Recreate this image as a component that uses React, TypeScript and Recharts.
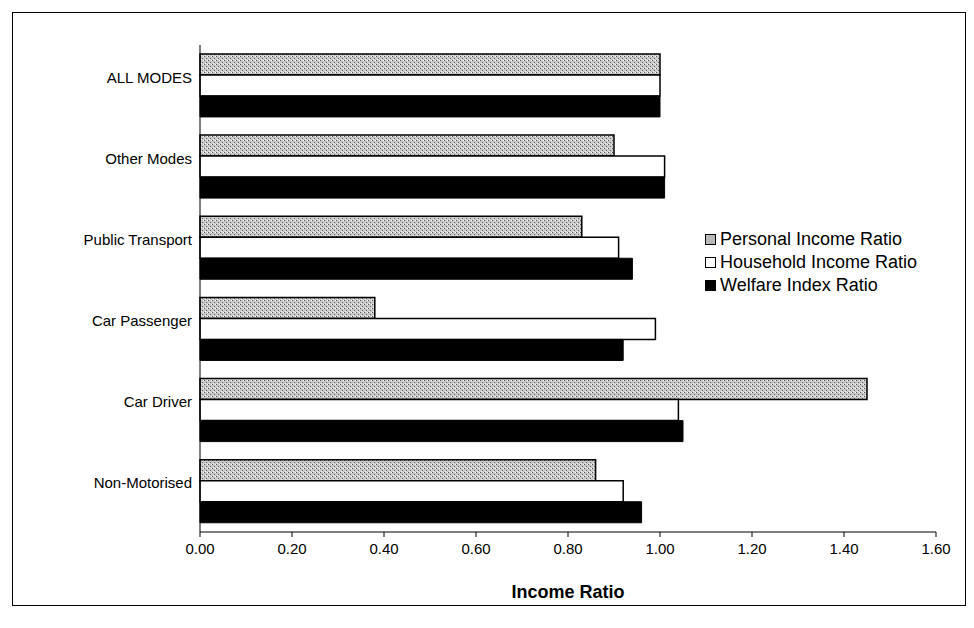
import React from "react";
import { BarChart, Bar, XAxis, YAxis } from "recharts";

const categories = ["ALL MODES", "Other Modes", "Public Transport", "Car Passenger", "Car Driver", "Non-Motorised"];
const personalIncome = [1.0, 0.9, 0.83, 0.38, 1.45, 0.86];
const householdIncome = [1.0, 1.01, 0.91, 0.99, 1.04, 0.92];
const welfareIndex = [1.0, 1.01, 0.94, 0.92, 1.05, 0.96];
const xTicks = [0, 0.2, 0.4, 0.6, 0.8, 1.0, 1.2, 1.4, 1.6];
const seriesNames = ["Personal Income Ratio", "Household Income Ratio", "Welfare Index Ratio"];

const data = categories.map((c, i) => ({
  mode: c,
  personal: personalIncome[i],
  household: householdIncome[i],
  welfare: welfareIndex[i],
}));

const FONT = "'Liberation Sans', Arial, sans-serif";

const CatTick = (props: any) => {
  const { x, y, payload } = props;
  return (
    <text x={x} y={y - 8} dy={5} textAnchor="end" fontSize={15} fill="#000" fontFamily={FONT}>
      {payload.value}
    </text>
  );
};

const legendSwatches = [
  { background: "#b8b8b8", border: "1.5px solid #000" },
  { background: "#fff", border: "1.5px solid #000" },
  { background: "#000", border: "1.5px solid #000" },
];

export default function App() {
  return (
    <div style={{ position: "relative", width: 958, height: 612, background: "#fff" }}>
      <div
        style={{
          position: "absolute",
          left: 4,
          top: 4,
          width: 954,
          height: 594,
          border: "1px solid #000",
          boxSizing: "border-box",
        }}
      />
      <BarChart
        width={958}
        height={612}
        data={data}
        layout="vertical"
        margin={{ top: 37, right: 30, bottom: 18, left: 0 }}
        barCategoryGap="11%"
        barGap={0}
        style={{ fontFamily: FONT }}
      >
        <defs>
          <pattern id="stipple" width="4" height="4" patternUnits="userSpaceOnUse">
            <rect width="4" height="4" fill="#c8c8c8" />
            <rect x="0" y="0" width="1" height="1" fill="#555" />
            <rect x="2" y="2" width="1" height="1" fill="#666" />
            <rect x="3" y="0" width="1" height="1" fill="#fff" />
            <rect x="1" y="3" width="1" height="1" fill="#eee" />
          </pattern>
        </defs>
        <XAxis
          type="number"
          domain={[0, 1.6]}
          ticks={xTicks}
          tickFormatter={(v: number) => v.toFixed(2)}
          stroke="#000"
          tick={{ fill: "#000", fontSize: 15, fontFamily: FONT }}
          tickSize={5}
          tickMargin={6}
          height={70}
          label={{
            value: "Income  Ratio",
            position: "insideBottom",
            offset: 4,
            style: { fontWeight: "bold", fontSize: 18, fill: "#000", fontFamily: FONT, whiteSpace: "pre" },
          }}
        />
        <YAxis
          type="category"
          dataKey="mode"
          width={192}
          stroke="#000"
          tickLine={false}
          tick={<CatTick />}
        />
        <Bar
          dataKey="personal"
          name={seriesNames[0]}
          fill="url(#stipple)"
          stroke="#000"
          strokeWidth={1.5}
          isAnimationActive={false}
        />
        <Bar
          dataKey="household"
          name={seriesNames[1]}
          fill="#fff"
          stroke="#000"
          strokeWidth={1.5}
          isAnimationActive={false}
        />
        <Bar
          dataKey="welfare"
          name={seriesNames[2]}
          fill="#000"
          stroke="#000"
          strokeWidth={1}
          isAnimationActive={false}
        />
      </BarChart>
      <div
        style={{
          position: "absolute",
          left: 697,
          top: 220,
          fontFamily: FONT,
          fontSize: 18,
          lineHeight: "23px",
          color: "#000",
        }}
      >
        {seriesNames.map((n, i) => (
          <div key={n} style={{ display: "flex", alignItems: "center", whiteSpace: "nowrap" }}>
            <span
              style={{
                display: "inline-block",
                width: 11,
                height: 11,
                boxSizing: "border-box",
                marginRight: 4,
                ...legendSwatches[i],
              }}
            />
            {n}
          </div>
        ))}
      </div>
    </div>
  );
}
